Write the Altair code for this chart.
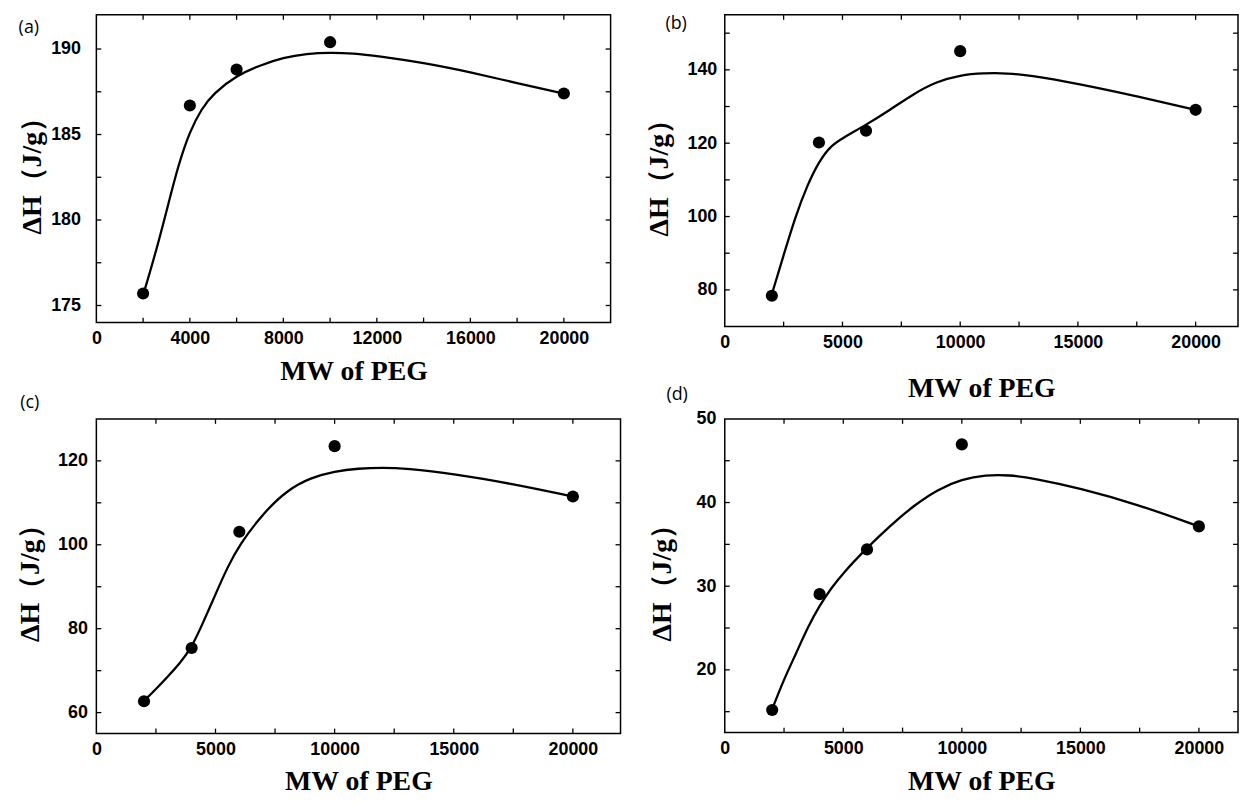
import altair as alt
import pandas as pd

# ---------------- data ----------------
MW = [2000, 4000, 6000, 10000, 20000]

dh_a = [175.7, 186.7, 188.8, 190.4, 187.4]
dh_b = [78.4, 120.2, 123.4, 145.1, 129.1]
dh_c = [62.7, 75.4, 103.1, 123.5, 111.5]
dh_d = [15.2, 29.05, 34.4, 46.95, 37.15]

# fitted curves
fit_x_a = [2000, 2500, 3000, 3500, 4000, 4500, 5000, 6000, 7000, 8000, 9000,
           10000, 11000, 12000, 14000, 16000, 18000, 20000]
fit_y_a = [175.6, 177.9, 180.5, 183.2, 185.2, 186.5, 187.4, 188.45, 189.05, 189.5,
           189.73, 189.8, 189.75, 189.6, 189.2, 188.65, 188.0, 187.4]

fit_x_b = [2000, 2500, 3000, 3500, 4000, 4500, 5000, 6000, 7000, 8000, 9000,
           10000, 11000, 12000, 13000, 15000, 17500, 20000]
fit_y_b = [78.8, 89.5, 100.0, 108.5, 115.0, 119.3, 121.4, 125.0, 129.0, 133.4,
           136.8, 138.6, 139.1, 139.1, 138.5, 136.2, 132.8, 129.1]

fit_x_c = [2000, 2500, 3000, 3500, 4000, 4500, 5000, 5500, 6000, 7000, 8000,
           9000, 10000, 11000, 12000, 13000, 15000, 17500, 20000]
fit_y_c = [62.8, 65.6, 68.6, 71.7, 75.5, 81.7, 88.2, 94.6, 100.0, 107.5, 113.0,
           116.0, 117.5, 118.2, 118.4, 118.2, 116.9, 114.5, 111.5]

fit_x_d = [2000, 2500, 3000, 3500, 4000, 4500, 5000, 6000, 7000, 8000, 9000,
           10000, 11000, 12000, 13000, 15000, 17500, 20000]
fit_y_d = [15.3, 18.9, 21.9, 25.1, 27.7, 29.8, 31.6, 34.6, 37.3, 39.7, 41.6,
           42.8, 43.3, 43.3, 42.9, 41.7, 39.7, 37.15]

# axis ticks
xlab_a = [0, 4000, 8000, 12000, 16000, 20000]
xtk_a = [2000, 4000, 6000, 8000, 10000, 12000, 14000, 16000, 18000, 20000]
ylab_a = [175, 180, 185, 190]
ytk_a = [175, 177.5, 180, 182.5, 185, 187.5, 190]

xlab_5k = [0, 5000, 10000, 15000, 20000]
xtk_5k = [2500, 5000, 7500, 10000, 12500, 15000, 17500, 20000]

ylab_b = [80, 100, 120, 140]
ytk_b = [80, 90, 100, 110, 120, 130, 140, 150]

ylab_c = [60, 80, 100, 120]
ytk_c = [60, 70, 80, 90, 100, 110, 120]

ylab_d = [20, 30, 40, 50]
ytk_d = [15, 20, 25, 30, 35, 40, 45]

labels = ["(a)", "(b)", "(c)", "(d)"]
x_title = "MW of PEG"
y_title = "ΔH（J/g）"

TICK = 5


def panel(label, dh, fx, fy, xdom, ydom, xlab, xtk, ylab, ytk, w, h,
          ytitle_x, xtitle_y, lab_x, lab_y, ylabpad, xlabpad):
    xs = alt.Scale(domain=xdom, nice=False, zero=False)
    ys = alt.Scale(domain=ydom, nice=False, zero=False)
    xaxis = alt.Axis(values=xlab, format="d", title=x_title,
                     labelFont="Liberation Sans", labelFontWeight="bold",
                     labelFontSize=18, labelColor="black", labelPadding=xlabpad,
                     labelFlush=False, labelOverlap=False, ticks=False,
                     domain=False, grid=False,
                     titleFont="Liberation Serif", titleFontWeight="bold",
                     titleFontSize=28, titleColor="black", titleX=w / 2,
                     titleY=xtitle_y, titleBaseline="middle", titleAlign="center")
    yaxis = alt.Axis(values=ylab, format="d", title=y_title,
                     labelFont="Liberation Sans", labelFontWeight="bold",
                     labelFontSize=18, labelColor="black", labelPadding=ylabpad,
                     labelFlush=False, labelOverlap=False, ticks=False,
                     domain=False, grid=False,
                     titleFont="Liberation Serif", titleFontWeight="bold",
                     titleFontSize=28, titleColor="black", titleAngle=270,
                     titleX=ytitle_x, titleY=h / 2, titleBaseline="middle",
                     titleAlign="center")

    pts = pd.DataFrame({"MW": MW, "DH": dh})
    fit = pd.DataFrame({"MW": fx, "DH": fy})
    xt = pd.DataFrame({"v": xtk})
    yt = pd.DataFrame({"v": ytk})
    lab = pd.DataFrame({"t": [label]})

    X = alt.X("MW:Q", scale=xs, axis=xaxis)
    Y = alt.Y("DH:Q", scale=ys, axis=yaxis)
    XV = alt.X("v:Q", scale=xs, axis=xaxis)
    YV = alt.Y("v:Q", scale=ys, axis=yaxis)

    line = alt.Chart(fit).mark_line(color="black", strokeWidth=2.3,
                                    interpolate="basis").encode(x=X, y=Y)
    dots = alt.Chart(pts).mark_circle(size=150, color="black",
                                      opacity=1).encode(x=X, y=Y)
    tb = alt.Chart(xt).mark_rule(color="black", strokeWidth=1.3).encode(
        x=XV, y=alt.value(h), y2=alt.value(h - TICK))
    tt = alt.Chart(xt).mark_rule(color="black", strokeWidth=1.3).encode(
        x=XV, y=alt.value(0), y2=alt.value(TICK))
    tl = alt.Chart(yt).mark_rule(color="black", strokeWidth=1.3).encode(
        y=YV, x=alt.value(0), x2=alt.value(TICK))
    tr = alt.Chart(yt).mark_rule(color="black", strokeWidth=1.3).encode(
        y=YV, x=alt.value(w), x2=alt.value(w - TICK))
    txt = alt.Chart(lab).mark_text(font="Open Sans", fontSize=18, color="black",
                                   align="center", baseline="middle").encode(
        x=alt.value(lab_x), y=alt.value(lab_y), text="t:N")
    return alt.layer(tb, tt, tl, tr, line, dots, txt).properties(width=w, height=h)


pa = panel(labels[0], dh_a, fit_x_a, fit_y_a, [0, 22000], [174, 192],
           xlab_a, xtk_a, ylab_a, ytk_a, 518, 310,
           -64, 49, -68, 13, 16, 7)
pb = panel(labels[1], dh_b, fit_x_b, fit_y_b, [0, 21800], [70, 155],
           xlab_5k, xtk_5k, ylab_b, ytk_b, 517, 314,
           -66, 62, -49, 9, 8, 7)
pc = panel(labels[2], dh_c, fit_x_c, fit_y_c, [0, 22000], [55, 130],
           xlab_5k, xtk_5k, ylab_c, ytk_c, 528, 317,
           -66, 48, -67, -16, 9, 7)
pd_ = panel(labels[3], dh_d, fit_x_d, fit_y_d, [0, 21650], [12.5, 50],
            xlab_5k, xtk_5k, ylab_d, ytk_d, 517, 316,
            -63, 49, -48, -24, 9, 7)

chart = alt.concat(
    pa, pb, pc, pd_, columns=2,
    spacing=alt.RowColnumber(row=93, column=105), bounds="flush",
).properties(
    padding={"left": 8, "top": 2, "right": 0, "bottom": 0},
    background="white",
).configure_view(stroke="black", strokeWidth=1.5)

chart.save("out.html", embed_options={"renderer": "svg", "actions": False})
